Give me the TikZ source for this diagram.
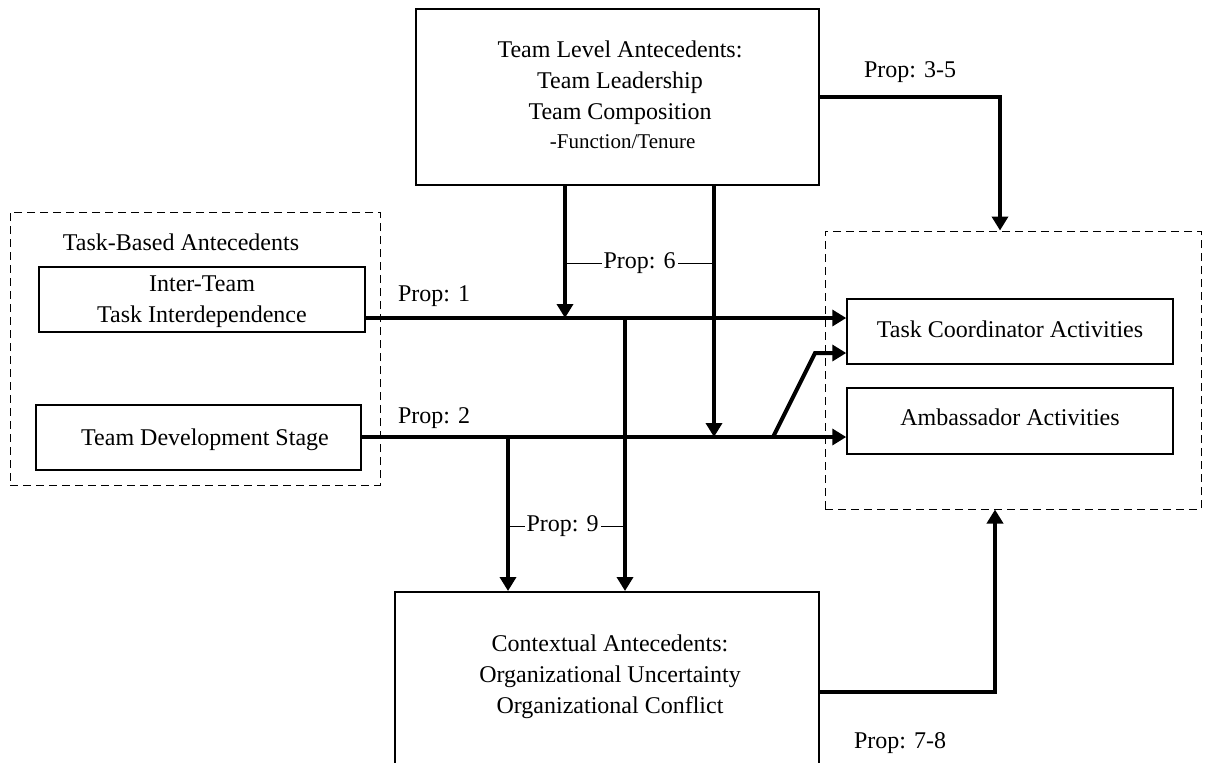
\documentclass[tikz,border=0pt]{standalone}
\usepackage{fontspec}
\setmainfont{Liberation Serif}
\usetikzlibrary{arrows.meta,calc}
\begin{document}
\begin{tikzpicture}[x=0.5pt,y=-0.5pt,
  box/.style={draw,line width=0.75pt,rectangle,inner sep=0pt},
  grp/.style={draw,line width=0.5pt,dash pattern=on 4pt off 2.5pt,rectangle,inner sep=0pt},
  txt/.style={font=\fontsize{12}{15.5}\selectfont,align=center,inner sep=0pt},
  lbl/.style={font=\fontsize{12}{14}\selectfont,inner sep=1pt},
  conn/.style={line width=2pt},
  arr/.style={line width=2pt,-{Triangle[length=7pt,width=8pt]}},
  thinl/.style={line width=0.5pt}]
\useasboundingbox (0,0) rectangle (1210,762);
\clip (0,0) rectangle (1210,762);
% groups
\node[grp,minimum width=185pt,minimum height=136.5pt] (lgrp) at (195,348.5) {};
\node[grp,minimum width=188pt,minimum height=139pt] (rgrp) at (1013,370) {};
% boxes
\node[box,minimum width=201.5pt,minimum height=88pt] (top) at (617.5,97) {};
\node[txt] (toptext) at (620,95) {Team Level Antecedents:\\Team Leadership\\Team Composition\\[-1pt]{\fontsize{10.5}{12}\selectfont\ -Function/Tenure}};
\node[lbl] (tbalbl) at (181,242) {Task-Based Antecedents};
\node[box,minimum width=163pt,minimum height=32.5pt] (inter) at (202,299.5) {};
\node[txt] (intertext) at (202,302) {Inter-Team\\Task Interdependence};
\node[box,minimum width=162.5pt,minimum height=32.5pt] (tdev) at (198.5,437.5) {};
\node[txt] (tdevtext) at (205,440) {Team Development Stage};
\node[box,minimum width=163pt,minimum height=32.5pt] (tc) at (1010,331.5) {};
\node[txt] (tctext) at (1010,329) {Task Coordinator Activities};
\node[box,minimum width=163pt,minimum height=33pt] (amb) at (1010,421) {};
\node[txt] (ambtext) at (1010,417) {Ambassador Activities};
\node[box,minimum width=212pt,minimum height=110pt,anchor=north] (ctx) at (607,591) {};
\node[txt] (ctxtext) at (610,677) {Contextual Antecedents:\\Organizational Uncertainty\\Organizational Conflict};
% coordinates
\coordinate (l1) at (0,318);
\coordinate (l2) at (0,437);
\coordinate (j1) at (565,318);
\coordinate (j2) at (714,437);
\coordinate (j3) at (625,318);
\coordinate (j4) at (508,437);
\coordinate (d1) at (773,437);
\coordinate (d2) at (815,353);
\coordinate (c35) at (1000,97);
\coordinate (c78) at (995,692);
% main arrows
\draw[arr] (inter.east |- l1) -- (tc.west |- l1);
\draw[arr] (tdev.east |- l2) -- (amb.west |- l2);
\draw[arr] (d1) -- (d2) -- (tc.west |- d2);
\draw[arr] (top.south -| j1) -- (j1);
\draw[arr] (top.south -| j2) -- (j2);
\draw[arr] (j3) -- (ctx.north -| j3);
\draw[arr] (j4) -- (ctx.north -| j4);
\draw[arr] (top.east) -- (c35) -- (rgrp.north -| c35);
\draw[arr] (ctx.east |- c78) -- (c78) -- (rgrp.south -| c78);
% labels
\draw[thinl] (565,263) -- node[lbl,fill=white] (p6) {Prop: 6} (714,263);
\draw[thinl] (508,526) -- node[lbl,fill=white,xshift=-2pt] (p9) {Prop: 9} (625,526);
\node[lbl] (p1) at (434,296) {Prop: 1};
\node[lbl] (p2) at (434,418) {Prop: 2};
\node[lbl] (p35) at (910,72) {Prop: 3-5};
\node[lbl] (p78) at (900,743) {Prop: 7-8};
\end{tikzpicture}
\end{document}
